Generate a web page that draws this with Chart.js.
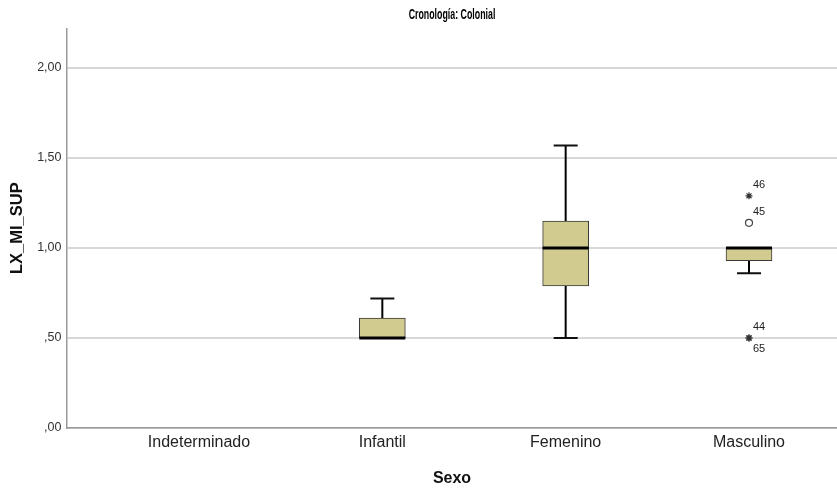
<!DOCTYPE html>
<html>
<head>
<meta charset="utf-8">
<script src="https://cdn.jsdelivr.net/npm/chart.js@4.4.0/dist/chart.umd.min.js"></script>
<style>
  html, body { margin: 0; padding: 0; background: #fff; overflow: hidden; }
  #wrap { width: 837px; height: 488px; }
  canvas { display: block; }
</style>
</head>
<body>
<div id="wrap"><canvas id="myChart" width="837" height="488"></canvas></div>
<script>
// Box plot data
let categories = ['Indeterminado', 'Infantil', 'Femenino', 'Masculino'];
let whiskerLow  = [null, 0.50, 0.50, 0.86];
let q1          = [null, 0.50, 0.79, 0.93];
let median      = [null, 0.50, 1.00, 1.00];
let q3          = [null, 0.61, 1.15, 1.00];
let whiskerHigh = [null, 0.72, 1.57, 1.00];

// outliers (circles) and extremes (stars), by category index
let outlierCat = [3];
let outlierValue = [1.14];
let outlierLabel = ['45'];
let extremeCat = [3, 3, 3];
let extremeValue = [1.29, 0.50, 0.50];
let extremeLabel = ['46', '44', '65'];

let yTicks = [0, 0.5, 1.0, 1.5, 2.0];
let chartTitle = 'Cronología: Colonial';

// build datasets from the arrays
let boxData = [], medianData = [], capData = [], whiskerData = [];
categories.forEach(function (c, i) {
    if (q1[i] === null) return;
    boxData.push({ x: i, y: [q1[i], q3[i]] });
    medianData.push({ x: i, y: median[i] });
    capData.push({ x: i, y: whiskerLow[i] });
    capData.push({ x: i, y: whiskerHigh[i] });
    whiskerData.push({ x: i, y: whiskerLow[i] });
    whiskerData.push({ x: i, y: whiskerHigh[i] });
    whiskerData.push({ x: i, y: null });
});
let outlierData = outlierCat.map(function (c, k) { return { x: c, y: outlierValue[k] }; });
let extremeData = extremeCat.map(function (c, k) { return { x: c, y: extremeValue[k] }; });

function fmt(v) {
    let s = v.toFixed(2).replace('.', ',');
    if (s.charAt(0) === '0') s = s.slice(1);
    return s;
}

// point labels next to outliers / extremes, plus the condensed title
let extraText = {
    id: 'extraText',
    afterDatasetsDraw: function (chart) {
        let ctx = chart.ctx;
        let xs = chart.scales.x, ys = chart.scales.y;
        ctx.save();
        ctx.font = '11px "Liberation Sans", Arial, sans-serif';
        ctx.fillStyle = '#222';
        ctx.textAlign = 'left';
        ctx.textBaseline = 'middle';
        let seen = [];
        function put(c, v, txt) {
            let key = c + '_' + v;
            let below = seen.indexOf(key) >= 0;
            seen.push(key);
            let px = xs.getPixelForValue(c);
            let py = ys.getPixelForValue(v);
            ctx.fillText(txt, px + 4, below ? py + 11 : py - 11);
        }
        outlierCat.forEach(function (c, k) { put(c, outlierValue[k], outlierLabel[k]); });
        extremeCat.forEach(function (c, k) { put(c, extremeValue[k], extremeLabel[k]); });
        ctx.restore();

        // title in a narrow face (squeezed horizontally)
        let ca = chart.chartArea;
        ctx.save();
        ctx.font = 'bold 14px "Liberation Sans", Arial, sans-serif';
        ctx.fillStyle = '#000';
        ctx.textAlign = 'center';
        ctx.textBaseline = 'middle';
        ctx.translate((ca.left + ca.right) / 2, 15);
        ctx.scale(0.63, 1);
        ctx.fillText(chartTitle, 0, 0);
        ctx.restore();
    }
};

let ctx = document.getElementById('myChart').getContext('2d');
let myChart = new Chart(ctx, {
    type: 'bar',
    data: {
        datasets: [
            {
                type: 'scatter',
                data: medianData,
                pointStyle: 'line',
                pointRadius: 23,
                borderColor: '#000',
                borderWidth: 3,
                order: 0
            },
            {
                type: 'scatter',
                data: outlierData,
                pointStyle: 'circle',
                pointRadius: 3.5,
                backgroundColor: '#fff',
                borderColor: '#444',
                borderWidth: 1.2,
                order: 0
            },
            {
                type: 'scatter',
                data: extremeData,
                pointStyle: 'star',
                pointRadius: 3.5,
                borderColor: '#333',
                borderWidth: 1.2,
                order: 0
            },
            {
                type: 'scatter',
                data: capData,
                pointStyle: 'line',
                pointRadius: 12,
                borderColor: '#111',
                borderWidth: 2,
                order: 1
            },
            {
                type: 'bar',
                data: boxData,
                backgroundColor: '#d1cb90',
                borderColor: '#3a3a3a',
                borderWidth: 1,
                borderSkipped: false,
                barThickness: 46,
                order: 2
            },
            {
                type: 'line',
                data: whiskerData,
                borderColor: '#000',
                borderWidth: 2,
                pointRadius: 0,
                spanGaps: false,
                order: 3
            }
        ]
    },
    options: {
        responsive: false,
        animation: false,
        devicePixelRatio: 1,
        layout: { padding: 0, autoPadding: false },
        plugins: {
            legend: { display: false },
            tooltip: { enabled: false },
            title: {
                // reserves the space; the text itself is drawn by extraText
                display: true,
                fullSize: false,
                text: chartTitle,
                color: 'rgba(0,0,0,0)',
                font: { family: '"Liberation Sans", Arial, sans-serif', size: 12, weight: 'bold' },
                padding: { top: 8, bottom: 6 }
            }
        },
        scales: {
            x: {
                type: 'linear',
                min: -0.72,
                max: 3.48,
                offset: false,
                afterFit: function (s) {
                    s.height = 60;
                    s.paddingLeft = 0;
                    s.paddingRight = 0;
                },
                afterBuildTicks: function (axis) {
                    axis.ticks = categories.map(function (c, i) { return { value: i }; });
                },
                grid: { display: false, drawTicks: false },
                border: { display: true, color: '#999', width: 1.5 },
                ticks: {
                    autoSkip: false,
                    maxRotation: 0,
                    padding: 5,
                    color: '#222',
                    font: { family: '"Liberation Sans", Arial, sans-serif', size: 16 },
                    callback: function (v) { return categories[v] !== undefined ? categories[v] : ''; }
                },
                title: {
                    display: true,
                    text: 'Sexo',
                    color: '#111',
                    font: { family: '"Liberation Sans", Arial, sans-serif', size: 16, weight: 'bold' },
                    padding: { top: 0, bottom: 0 }
                }
            },
            y: {
                min: 0,
                max: 2.22,
                afterFit: function (s) { s.width = 67; },
                afterBuildTicks: function (axis) {
                    axis.ticks = yTicks.map(function (v) { return { value: v }; });
                },
                grid: { color: '#d8d8d8', lineWidth: 2, drawTicks: false },
                border: { display: true, color: '#999', width: 1.5 },
                ticks: {
                    padding: 5.5,
                    color: '#333',
                    font: { family: '"Liberation Sans", Arial, sans-serif', size: 12.5 },
                    callback: function (v) { return fmt(v); }
                },
                title: {
                    display: true,
                    text: 'LX_MI_SUP',
                    color: '#111',
                    font: { family: '"Liberation Sans", Arial, sans-serif', size: 16.5, weight: 'bold' },
                    padding: { top: 8, bottom: 0 }
                }
            }
        }
    },
    plugins: [extraText]
});
</script>
</body>
</html>
